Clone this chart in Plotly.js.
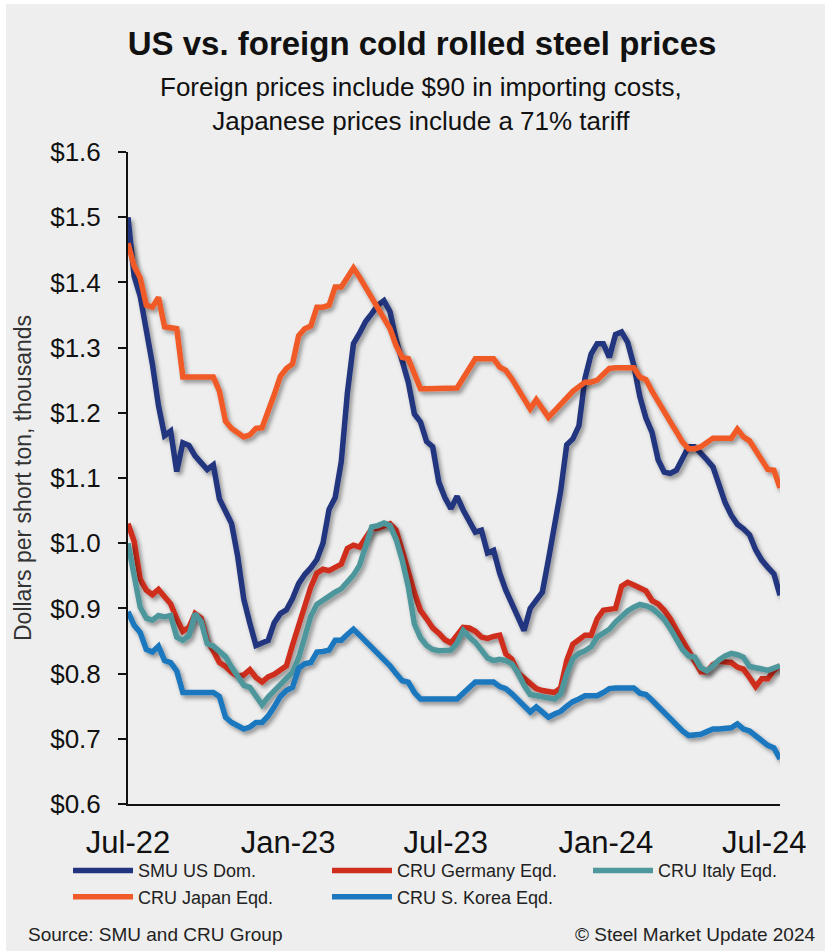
<!DOCTYPE html>
<html>
<head>
<meta charset="utf-8">
<script src="https://cdn.plot.ly/plotly-3.0.1.min.js"></script>
<style>
  html, body { margin: 0; padding: 0; background: #ffffff; width: 825px; height: 951px; overflow: hidden; }
  #chart { position: absolute; left: 6px; top: 4px; width: 819px; height: 947px; }
  .scatterlayer .js-line { filter: url(#lineShadow); }
</style>
</head>
<body>
<svg width="0" height="0" style="position:absolute">
  <defs>
    <filter id="lineShadow" x="-5%" y="-5%" width="110%" height="120%">
      <feDropShadow dx="2.5" dy="3" stdDeviation="2" flood-color="#000" flood-opacity="0.4"/>
    </filter>
  </defs>
</svg>
<div id="chart"></div>
<script>
// Weekly observations, first week of Jul-22 through mid Jul-24
const startDate = '2022-07-01';
const nWeeks = 108;

const smuUS = [1.50,1.41,1.379,1.332,1.275,1.211,1.165,1.172,1.11,1.154,
  1.150,1.134,1.122,1.113,1.12,1.068,1.049,1.030,0.98,0.914,
  0.877,0.843,0.847,0.851,0.878,0.892,0.898,0.915,0.938,0.952,
  0.962,0.975,1.00,1.052,1.07,1.125,1.23,1.306,1.322,1.340,
  1.352,1.365,1.372,1.355,1.312,1.278,1.247,1.198,1.186,1.156,
  1.148,1.094,1.07,1.053,1.072,1.051,1.033,1.017,1.02,0.985,
  0.989,0.954,0.928,0.906,0.884,0.866,0.90,0.914,0.925,0.975,
  1.025,1.08,1.151,1.16,1.18,1.253,1.29,1.306,1.306,1.285,
  1.32,1.324,1.308,1.273,1.225,1.192,1.17,1.128,1.109,1.107,
  1.112,1.13,1.148,1.148,1.139,1.128,1.117,1.09,1.062,1.043,
  1.029,1.022,1.013,0.99,0.974,0.963,0.953,0.92];

const cruGermany = [1.03,1.003,0.945,0.928,0.921,0.929,0.918,0.907,0.884,0.865,
  0.871,0.892,0.885,0.85,0.835,0.817,0.811,0.802,0.796,0.798,
  0.806,0.794,0.787,0.795,0.799,0.805,0.812,0.844,0.875,0.905,
  0.933,0.954,0.960,0.958,0.962,0.968,0.992,0.997,0.994,1.008,
  1.022,1.023,1.026,1.03,1.02,0.991,0.957,0.924,0.897,0.884,
  0.87,0.862,0.852,0.847,0.858,0.871,0.87,0.865,0.856,0.854,
  0.857,0.859,0.83,0.822,0.801,0.793,0.784,0.777,0.774,0.773,
  0.771,0.778,0.82,0.845,0.852,0.859,0.859,0.884,0.897,0.899,
  0.90,0.934,0.940,0.936,0.932,0.927,0.912,0.907,0.897,0.884,
  0.867,0.85,0.835,0.817,0.803,0.803,0.814,0.819,0.819,0.817,
  0.81,0.807,0.794,0.78,0.792,0.792,0.805,0.812];

const cruItaly = [1.0,0.951,0.902,0.885,0.882,0.889,0.887,0.889,0.856,0.851,
  0.858,0.892,0.88,0.846,0.842,0.834,0.826,0.81,0.794,0.782,
  0.779,0.765,0.752,0.764,0.774,0.785,0.795,0.802,0.824,0.854,
  0.888,0.906,0.913,0.919,0.925,0.93,0.94,0.951,0.966,0.997,
  1.025,1.027,1.031,1.027,1.006,0.974,0.933,0.876,0.855,0.843,
  0.837,0.835,0.835,0.836,0.847,0.866,0.856,0.848,0.836,0.824,
  0.82,0.822,0.82,0.815,0.801,0.782,0.768,0.766,0.765,0.762,
  0.761,0.769,0.80,0.823,0.831,0.835,0.841,0.856,0.862,0.868,
  0.879,0.889,0.896,0.902,0.906,0.904,0.90,0.892,0.883,0.869,
  0.853,0.837,0.827,0.825,0.809,0.804,0.812,0.821,0.827,0.831,
  0.829,0.825,0.811,0.808,0.807,0.805,0.808,0.812];

const cruJapan = [1.46,1.425,1.407,1.365,1.362,1.377,1.332,1.330,1.329,1.255,
  1.255,1.255,1.255,1.255,1.255,1.233,1.187,1.176,1.169,1.163,
  1.166,1.176,1.177,1.20,1.228,1.256,1.268,1.275,1.318,1.329,
  1.333,1.362,1.362,1.365,1.393,1.393,1.409,1.422,1.408,1.393,
  1.378,1.362,1.345,1.329,1.303,1.285,1.283,1.26,1.237,1.237,
  1.237,1.237,1.237,1.237,1.238,1.253,1.268,1.283,1.283,1.283,
  1.283,1.27,1.265,1.252,1.237,1.222,1.206,1.22,1.207,1.193,
  1.203,1.212,1.223,1.233,1.24,1.247,1.247,1.25,1.259,1.268,
  1.269,1.269,1.269,1.269,1.255,1.251,1.233,1.216,1.201,1.186,
  1.171,1.155,1.145,1.145,1.148,1.155,1.161,1.161,1.161,1.161,
  1.175,1.163,1.157,1.142,1.127,1.113,1.112,1.085];

const cruKorea = [0.895,0.874,0.863,0.837,0.833,0.842,0.82,0.817,0.804,0.771,
  0.771,0.771,0.771,0.771,0.771,0.765,0.733,0.725,0.72,0.715,
  0.718,0.725,0.725,0.735,0.749,0.765,0.774,0.779,0.808,0.815,
  0.817,0.833,0.834,0.836,0.851,0.851,0.86,0.868,0.859,0.85,
  0.84,0.831,0.822,0.812,0.80,0.789,0.787,0.771,0.761,0.761,
  0.761,0.761,0.761,0.761,0.761,0.77,0.779,0.787,0.787,0.787,
  0.787,0.78,0.777,0.769,0.759,0.75,0.741,0.749,0.741,0.733,
  0.738,0.742,0.75,0.757,0.761,0.766,0.766,0.766,0.771,0.777,
  0.778,0.778,0.778,0.778,0.770,0.768,0.759,0.749,0.74,0.731,
  0.721,0.712,0.705,0.705,0.707,0.711,0.715,0.715,0.715,0.717,
  0.723,0.715,0.712,0.704,0.697,0.69,0.686,0.669];

const tickDates = ['2022-07-01','2023-01-01','2023-07-01','2024-01-01','2024-07-01'];
const tickLabels = ['Jul-22','Jan-23','Jul-23','Jan-24','Jul-24'];

const seriesNames = ['SMU US Dom.','CRU Germany Eqd.','CRU Italy Eqd.','CRU Japan Eqd.','CRU S. Korea Eqd.'];
const seriesColors = ['#22347f','#cf2e1f','#4e979c','#f05a28','#1b78be'];
const seriesLegends = ['legend','legend2','legend3','legend','legend2'];
const seriesValues = [smuUS, cruGermany, cruItaly, cruJapan, cruKorea];

// weekly date axis
const weeks = [];
{
  const d0 = new Date(startDate + 'T00:00:00Z');
  for (let i = 0; i < nWeeks; i++) {
    const d = new Date(d0.getTime() + i * 7 * 86400000);
    weeks.push(d.toISOString().slice(0, 10));
  }
}

const FONT = 'Liberation Sans, Arial, Helvetica, sans-serif';

const traces = seriesValues.map((vals, i) => ({
  type: 'scatter',
  mode: 'lines',
  x: weeks,
  y: vals,
  name: seriesNames[i],
  legend: seriesLegends[i],
  line: { color: seriesColors[i], width: 5.5, shape: 'linear' },
  hoverinfo: 'skip'
}));

const legendBase = {
  orientation: 'v',
  xanchor: 'left',
  yanchor: 'top',
  y: -0.074,
  bgcolor: 'rgba(0,0,0,0)',
  borderwidth: 0,
  itemwidth: 60,
  tracegroupgap: 0,
  font: { family: FONT, size: 18, color: '#222222' }
};

const layout = {
  width: 819,
  height: 947,
  paper_bgcolor: '#eeeeee',
  plot_bgcolor: '#eeeeee',
  margin: { l: 122, r: 45, t: 148, b: 147, pad: 0 },
  showlegend: true,
  title: {
    text: '<b>US vs. foreign cold rolled steel prices</b>',
    font: { family: FONT, size: 33, color: '#111111' },
    xref: 'container', x: 0.508, xanchor: 'center',
    yref: 'container', y: 0.9705, yanchor: 'top'
  },
  xaxis: {
    type: 'date',
    range: [weeks[0], weeks[weeks.length - 1]],
    showgrid: false, zeroline: false,
    showline: true, linecolor: '#111111', linewidth: 2,
    ticks: '',
    tickmode: 'array', tickvals: tickDates, ticktext: tickLabels,
    tickfont: { family: FONT, size: 31, color: '#111111' },
    ticklabelstandoff: 10,
    fixedrange: true
  },
  yaxis: {
    range: [0.6, 1.6],
    tick0: 0.6, dtick: 0.1,
    tickprefix: '$', tickformat: '.1f',
    showgrid: false, zeroline: false,
    showline: true, linecolor: '#111111', linewidth: 2,
    ticks: 'outside', ticklen: 8, tickwidth: 2, tickcolor: '#111111',
    tickfont: { family: FONT, size: 26, color: '#111111' },
    ticklabelstandoff: 12,
    title: {
      text: 'Dollars per short ton, thousands',
      font: { family: FONT, size: 23, color: '#333333' },
      standoff: 12
    },
    automargin: false,
    fixedrange: true
  },
  legend: Object.assign({}, legendBase, { x: -0.092 }),
  legend2: Object.assign({}, legendBase, { x: 0.3052 }),
  legend3: Object.assign({}, legendBase, { x: 0.7055 }),
  annotations: [
    {
      text: 'Foreign prices include $90 in importing costs,<br>Japanese prices include a 71% tariff',
      xref: 'paper', yref: 'paper', x: 0.450, y: 1.126,
      xanchor: 'center', yanchor: 'top', align: 'center', showarrow: false,
      font: { family: FONT, size: 26, color: '#111111' }
    },
    {
      text: 'Source: SMU and CRU Group',
      xref: 'paper', yref: 'paper', x: -0.1564, y: -0.2186,
      xanchor: 'left', yanchor: 'bottom', showarrow: false,
      font: { family: FONT, size: 19, color: '#222222' }
    },
    {
      text: '\u00A9 Steel Market Update 2024',
      xref: 'paper', yref: 'paper', x: 1.0567, y: -0.2186,
      xanchor: 'right', yanchor: 'bottom', showarrow: false,
      font: { family: FONT, size: 19, color: '#222222' }
    }
  ]
};

Plotly.newPlot('chart', traces, layout, { staticPlot: true, displayModeBar: false });
</script>
</body>
</html>
